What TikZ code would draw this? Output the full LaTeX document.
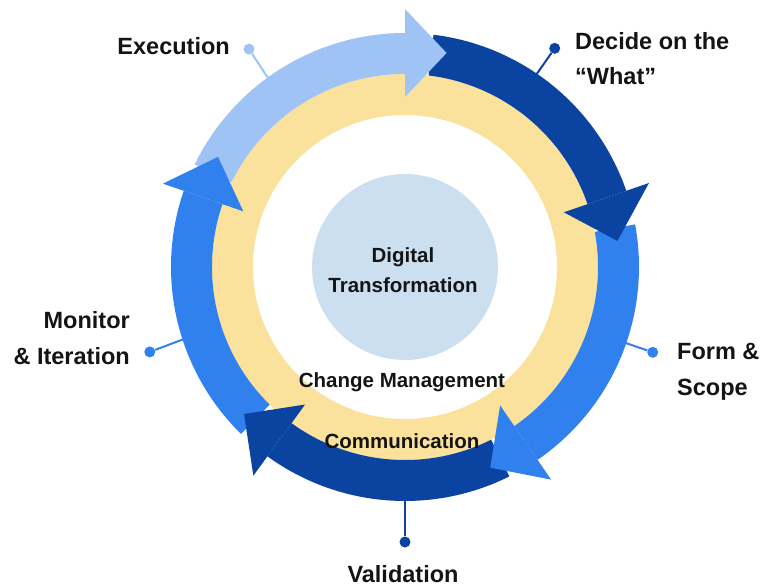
\documentclass[tikz,border=0pt]{standalone}
\usepackage{fontspec}
\setmainfont{Liberation Sans}
\usetikzlibrary{positioning}

\definecolor{lightcycle}{HTML}{9FC3F5}
\definecolor{darkcycle}{HTML}{0A43A0}
\definecolor{brightcycle}{HTML}{3080EE}
\definecolor{ringyellow}{HTML}{FBE29C}
\definecolor{corefill}{HTML}{CCDFF1}

\tikzset{
  label text/.style={font=\fontsize{23.5}{35.5}\selectfont\bfseries, inner sep=0pt, text=black!92},
  ring text/.style={font=\fontsize{20.5}{30}\selectfont\bfseries, inner sep=0pt, text=black!92},
  pin dot/.style={circle, fill=#1, minimum size=11pt, inner sep=0pt},
  pin line/.style={draw=#1, line width=2pt},
}

\begin{document}
\begin{tikzpicture}[x=1pt,y=1pt]
 \useasboundingbox (-405,-319) rectangle (357,267);

 % leader lines and dots
 \coordinate (execring) at (126:228pt);
 \coordinate (decidering) at (55.7:228pt);
 \coordinate (formring) at (-19:228pt);
 \coordinate (validring) at (270:228pt);
 \coordinate (monitorring) at (198:228pt);
 \node[pin dot=lightcycle] (execdot) at (125.6:268pt) {};
 \node[pin dot=darkcycle] (decidedot) at (55.6:265pt) {};
 \node[pin dot=brightcycle] (formdot) at (-19:262pt) {};
 \node[pin dot=darkcycle] (validdot) at (270:275pt) {};
 \node[pin dot=brightcycle] (monitordot) at (198.4:269pt) {};
 \draw[pin line=lightcycle] (execring) -- (execdot);
 \draw[pin line=darkcycle] (decidering) -- (decidedot);
 \draw[pin line=brightcycle] (formring) -- (formdot);
 \draw[pin line=darkcycle] (validring) -- (validdot);
 \draw[pin line=brightcycle] (monitorring) -- (monitordot);

 % yellow ring
 \fill[ringyellow, even odd rule] (0,0) circle (193pt) (0,0) circle (152pt);

 % outer bands
 \fill[lightcycle] (154:234pt) arc[start angle=154, end angle=90, radius=234pt] -- (90:193pt) arc[start angle=90, end angle=154, radius=193pt] -- cycle;
 \fill[darkcycle] (83:234pt) arc[start angle=83, end angle=19, radius=234pt] -- (19:193pt) arc[start angle=19, end angle=83, radius=193pt] -- cycle;
 \fill[brightcycle] (10.5:234pt) arc[start angle=10.5, end angle=-55.5, radius=234pt] -- (-55.5:193pt) arc[start angle=-55.5, end angle=10.5, radius=193pt] -- cycle;
 \fill[darkcycle] (-63.5:234pt) arc[start angle=-63.5, end angle=-126, radius=234pt] -- (-126:193pt) arc[start angle=-126, end angle=-63.5, radius=193pt] -- cycle;
 \fill[brightcycle] (-134.5:234pt) arc[start angle=-134.5, end angle=-199, radius=234pt] -- (-199:193pt) arc[start angle=-199, end angle=-134.5, radius=193pt] -- cycle;

 % arrow heads
 \fill[lightcycle] (90:258pt) -- (79:218pt) -- (90:170pt) -- cycle;
 \fill[darkcycle] (19:258pt) -- (7:214pt) -- (19:168pt) -- cycle;
 \fill[brightcycle] (-55.5:258pt) -- (-67:218pt) -- (-55.5:168pt) -- cycle;
 \fill[darkcycle] (-126:258pt) -- (-137.6:218pt) -- (-126:170pt) -- cycle;
 \fill[brightcycle] (-199:256pt) -- (-210.5:217pt) -- (-199:171pt) -- cycle;

 % centre
 \node[circle, fill=corefill, minimum size=186pt] (core) at (0,0) {};
 \node[ring text, anchor=base, align=center] (digital) at (-2,-25) {Digital\\Transformation};
 \node[ring text, anchor=base] (change) at (-3,-120) {Change Management};
 \node[ring text, anchor=base] (comm) at (-3,-181) {Communication};

 % labels
 \node[label text, anchor=base east] (exec) at (-175,212) {Execution};
 \node[label text, anchor=base west, align=left] (decide) at (170,182) {Decide on the\\“What”};
 \node[label text, anchor=base west, align=left] (form) at (272,-128) {Form \&\\Scope};
 \node[label text, anchor=base] (valid) at (-2,-315) {Validation};
 \node[label text, anchor=base east, align=right] (monitor) at (-275,-97) {Monitor\\\& Iteration};
\end{tikzpicture}
\end{document}
